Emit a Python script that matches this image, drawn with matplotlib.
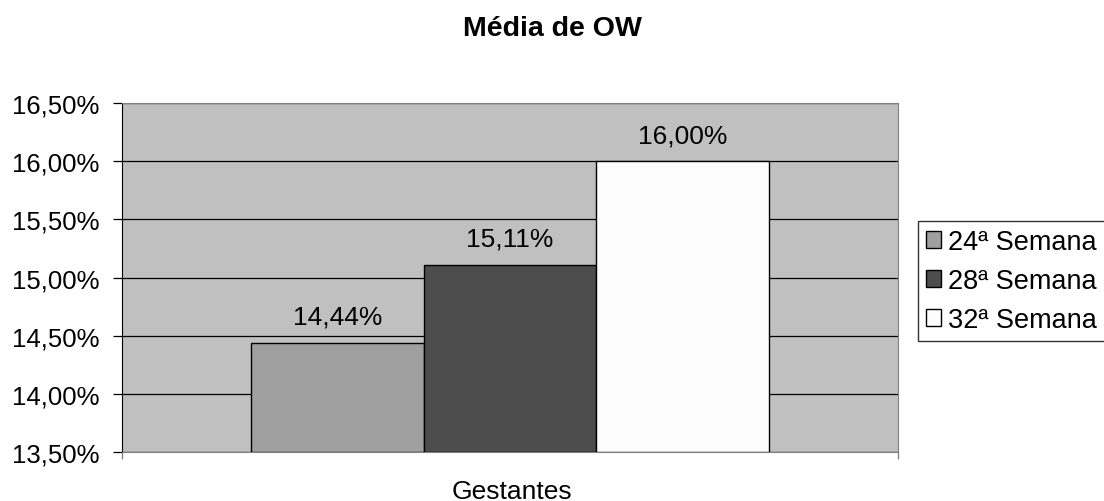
import matplotlib.pyplot as plt

plt.rcParams["font.family"] = ["Liberation Sans", "DejaVu Sans"]

series = ["24ª Semana", "28ª Semana", "32ª Semana"]
values = [14.44, 15.11, 16.00]
labels = ["14,44%", "15,11%", "16,00%"]
colors = ["#A0A0A0", "#4D4D4D", "#FDFDFD"]
yticks = [13.5, 14.0, 14.5, 15.0, 15.5, 16.0, 16.5]
ytick_labels = ["13,50%", "14,00%", "14,50%", "15,00%", "15,50%", "16,00%", "16,50%"]

fig = plt.figure(figsize=(11.04, 5.02), dpi=100)
ax = fig.add_axes([0.1105, 0.0976, 0.7029, 0.6952])
ax.set_facecolor("#C0C0C0")

pos = [-1, 0, 1]
for p, v, c, s in zip(pos, values, colors, series):
    ax.bar(p, v - 13.5, bottom=13.5, width=1.0, color=c,
           edgecolor="black", linewidth=1.0, label=s, zorder=3)

# rótulos acima das barras
for p, v, t in zip(pos, values, labels):
    ax.text(p, v + 0.12, t, ha="center", va="bottom", fontsize=19)

ax.set_ylim(13.5, 16.5)
ax.set_xlim(-2.25, 2.25)
ax.set_yticks(yticks)
ax.set_yticklabels(ytick_labels, fontsize=18.5)
ax.yaxis.grid(True, color="black", linewidth=0.9, zorder=1)
ax.set_axisbelow(True)
ax.set_xticks([-2.25, 2.25])
ax.set_xticklabels(["", ""])
ax.tick_params(axis="y", direction="out", length=6.5, width=0.9, pad=9.5)
ax.tick_params(axis="x", direction="out", length=5, width=0.9, color="#808080")

ax.spines["left"].set_color("black")
for side in ["top", "right", "bottom"]:
    ax.spines[side].set_color("#808080")

fig.text(512 / 1104, 1 - 492 / 502, "Gestantes", ha="center", va="center",
         fontsize=19)
fig.text(552 / 1104, 1 - 29 / 502, "Média de OW", ha="center", va="center",
         fontsize=20.5, fontweight="bold")

leg = ax.legend(loc="upper left", bbox_to_anchor=(918 / 1104, 1 - 222 / 502),
                bbox_transform=fig.transFigure, fontsize=19.5, frameon=True,
                fancybox=False, edgecolor="black", handlelength=0.55,
                handleheight=0.55, handletextpad=0.25, borderpad=0.3,
                labelspacing=0.48, borderaxespad=0)
leg.get_frame().set_linewidth(1.0)

fig.savefig("out.png", dpi=100)
